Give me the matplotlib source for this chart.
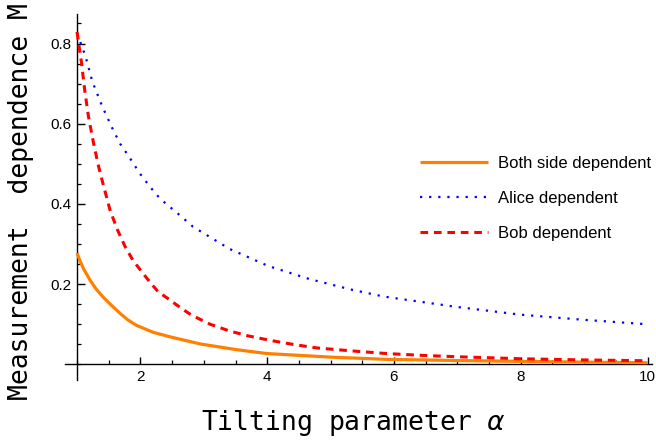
import matplotlib
matplotlib.use("Agg")
import matplotlib.pyplot as plt
from matplotlib.ticker import MultipleLocator, FixedLocator

# ---- data ----
alpha_both = [1.0, 1.05, 1.10, 1.205, 1.3, 1.41, 1.55, 1.68, 1.8, 1.94, 2.2, 2.47,
              2.94, 3.5, 3.99, 5.0, 5.88, 7.0, 7.99, 9.0, 10.0]
both_dep = [0.2775, 0.257, 0.239, 0.21, 0.188, 0.168, 0.146, 0.127, 0.111, 0.097, 0.080,
            0.0685, 0.051, 0.037, 0.027, 0.018, 0.0125, 0.0095, 0.0075, 0.0055, 0.004]

alpha_alice = [1.0, 1.04, 1.13, 1.24, 1.39, 1.56, 1.68, 1.84, 1.99, 2.15, 2.31, 2.62,
               2.83, 3.41, 4.02, 4.66, 5.31, 5.84, 7.0, 7.99, 9.0, 10.0]
alice_dep = [0.825, 0.808, 0.77, 0.706, 0.646, 0.5875, 0.55, 0.513, 0.476, 0.443, 0.413,
             0.372, 0.343, 0.2875, 0.245, 0.213, 0.187, 0.169, 0.143, 0.124, 0.111, 0.10]

alpha_bob = [1.0, 1.035, 1.07, 1.12, 1.18, 1.26, 1.33, 1.41, 1.52, 1.63, 1.76, 1.88,
             2.02, 2.15, 2.28, 2.47, 2.65, 2.81, 3.1, 3.41, 3.7, 4.04, 4.4, 4.78, 5.3,
             5.88, 6.5, 7.0, 7.99, 9.0, 10.0]
bob_dep = [0.829, 0.79, 0.753, 0.685, 0.618, 0.552, 0.50, 0.45, 0.385, 0.338, 0.293, 0.26,
           0.231, 0.205, 0.181, 0.16, 0.139, 0.1225, 0.10, 0.083, 0.071, 0.06, 0.05, 0.041,
           0.034, 0.027, 0.022, 0.019, 0.014, 0.011, 0.009]

labels = ["Both side dependent", "Alice dependent", "Bob dependent"]
x_ticks = [2, 4, 6, 8, 10]
y_ticks = [0.2, 0.4, 0.6, 0.8]
x_title = r"Tilting parameter $\alpha$"
y_title = "Measurement  dependence M"

plt.rcParams['font.family'] = ['Liberation Sans', 'DejaVu Sans']
plt.rcParams['mathtext.fontset'] = 'dejavusans'

W, H = 656, 442
fig = plt.figure(figsize=(W / 100, H / 100), dpi=100)
L, R, T, B = 65, 652, 14, 380
ax = fig.add_axes([L / W, 1 - B / H, (R - L) / W, (B - T) / H])

orange = (1.0, 0.5, 0.0)
ax.plot(alpha_both, both_dep, color=orange, lw=2.3, solid_capstyle='butt',
        label=labels[0], zorder=3)
ax.plot(alpha_alice, alice_dep, color=(0, 0, 1), lw=1.6, linestyle=(0, (1, 3.1)),
        dash_capstyle='butt', label=labels[1], zorder=3)
ax.plot(alpha_bob, bob_dep, color=(1, 0, 0), lw=2.2, linestyle=(0, (2.5, 1.9)),
        dash_capstyle='butt', label=labels[2], zorder=3)

ax.set_xlim(0.81, 10.07)
ax.set_ylim(-0.039, 0.8736)

for s in ['top', 'right']:
    ax.spines[s].set_visible(False)
ax.spines['left'].set_position(('data', 1))
ax.spines['bottom'].set_position(('data', 0))
for s in ['left', 'bottom']:
    ax.spines[s].set_linewidth(1.0)
    ax.spines[s].set_color('black')

ax.xaxis.set_major_locator(FixedLocator(x_ticks))
ax.yaxis.set_major_locator(FixedLocator(y_ticks))
ax.xaxis.set_minor_locator(MultipleLocator(0.5))
ax.yaxis.set_minor_locator(MultipleLocator(0.05))
ax.tick_params(which='major', direction='in', length=5.4, width=1.0, labelsize=11, pad=4)
ax.tick_params(which='minor', direction='in', length=3.1, width=0.9)
ax.set_xticklabels([str(v) for v in x_ticks])
ax.set_yticklabels([str(v) for v in y_ticks])

fig.text(353 / W, 1 - 430 / H, x_title, family='DejaVu Sans Mono', fontsize=19,
         ha='center', va='baseline')
fig.text(28.5 / W, 1 - 400 / H, y_title, family='DejaVu Sans Mono', fontsize=19,
         rotation=90, rotation_mode='anchor', ha='left', va='baseline')

leg = ax.legend(loc='upper left', bbox_to_anchor=(420 / W, 1 - 156 / H),
                bbox_transform=fig.transFigure, frameon=False, fontsize=12,
                handlelength=4.1, handletextpad=0.55, labelspacing=1.19, borderpad=0,
                borderaxespad=0)

fig.savefig("out.png", dpi=100)
